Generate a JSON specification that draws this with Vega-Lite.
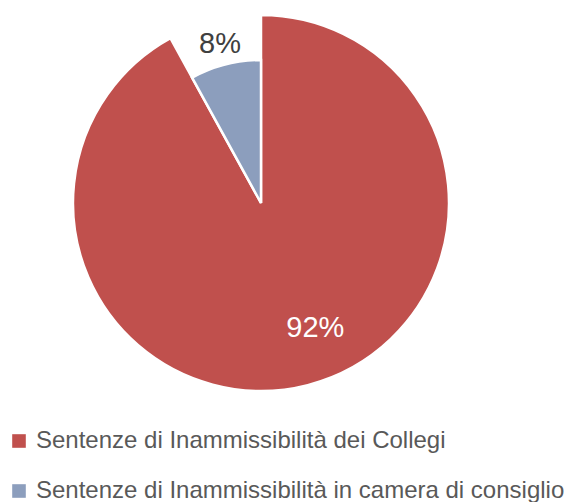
{
  "$schema": "https://vega.github.io/schema/vega-lite/v6.json",
  "width": 522,
  "height": 406,
  "padding": 0,
  "background": "white",
  "config": {"view": {"stroke": null}, "font": "Liberation Sans"},
  "data": {"values": [
    {"category": "Sentenze di Inammissibilità dei Collegi", "value": 92, "label": "92%", "ord": 1},
    {"category": "Sentenze di Inammissibilità in camera di consiglio", "value": 8, "label": "8%", "ord": 2}
  ]},
  "encoding": {
    "theta": {"field": "value", "type": "quantitative", "stack": true},
    "order": {"field": "ord", "type": "quantitative"}
  },
  "layer": [
    {
      "mark": {"type": "arc", "radius": 188, "stroke": "white", "strokeWidth": 2.5},
      "encoding": {
        "opacity": {"condition": {"test": "datum.ord == 1", "value": 1}, "value": 0},
        "color": {
          "field": "category", "type": "nominal",
          "scale": {"domain": ["Sentenze di Inammissibilità dei Collegi", "Sentenze di Inammissibilità in camera di consiglio"], "range": ["#C0504D", "#8C9EBD"]},
          "legend": {
            "title": null, "orient": "none", "legendX": 7, "legendY": 429,
            "symbolType": "square", "symbolSize": 185, "symbolStrokeWidth": 0, "symbolOpacity": 1,
            "labelFontSize": 24, "labelColor": "#595959", "labelFont": "Liberation Sans",
            "rowPadding": 26, "labelOffset": 5, "labelLimit": 600
          }
        }
      }
    },
    {
      "mark": {"type": "arc", "radius": 143, "stroke": "white", "strokeWidth": 2.5},
      "encoding": {
        "opacity": {"condition": {"test": "datum.ord == 2", "value": 1}, "value": 0},
        "color": {"field": "category", "type": "nominal"}
      }
    },
    {
      "mark": {"type": "text", "radius": 134, "dx": 21, "dy": -5, "fontSize": 29, "font": "Liberation Sans", "color": "#FFFFFF"},
      "encoding": {
        "text": {"condition": {"test": "datum.ord == 1", "field": "label"}, "value": ""}
      }
    },
    {
      "mark": {"type": "text", "radius": 165, "dy": 1, "fontSize": 29, "font": "Liberation Sans", "color": "#404040"},
      "encoding": {
        "text": {"condition": {"test": "datum.ord == 2", "field": "label"}, "value": ""}
      }
    }
  ]
}
